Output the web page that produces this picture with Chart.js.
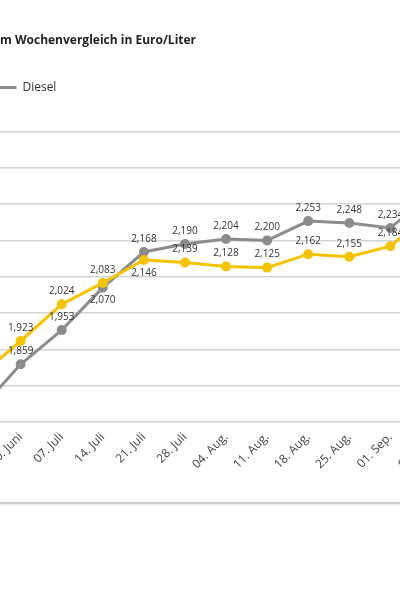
<!DOCTYPE html>
<html lang="de">
<head>
<meta charset="utf-8">
<title>Kraftstoffpreise im Wochenvergleich</title>
<script src="https://cdn.jsdelivr.net/npm/chart.js@4/dist/chart.umd.min.js"></script>
<style>
  html, body { margin: 0; padding: 0; background: #fff; width: 400px; height: 600px; overflow: hidden; }
  #wrap { position: absolute; left: -112px; top: 0; width: 574px; height: 492px; }
  #rule { position: absolute; left: 0; top: 502px; width: 400px; height: 2px; background: #cdcdcd; box-shadow: 0 1px 1px #ececec; }
</style>
</head>
<body>
<div id="wrap"><canvas id="mainchart"></canvas></div>
<div id="rule"></div>
<script>
// Wochenwerte in Euro/Liter
const weeks = ["23. Juni", "30. Juni", "07. Juli", "14. Juli", "21. Juli", "28. Juli",
  "04. Aug.", "11. Aug.", "18. Aug.", "25. Aug.", "01. Sep.", "08. Sep."];
const superE10 = [1.826, 1.923, 2.024, 2.083, 2.146, 2.139, 2.128, 2.125, 2.162, 2.155, 2.184, 2.277];
const diesel = [1.733, 1.859, 1.953, 2.070, 2.168, 2.190, 2.204, 2.200, 2.253, 2.248, 2.234, 2.330];

// where the value label sits relative to its point
const e10LabelSide = ["above", "above", "above", "above", "below", "above", "above", "above", "above", "above", "above", "above"];
const dieselLabelSide = ["above", "above", "above", "below", "above", "above", "above", "above", "above", "above", "above", "above"];

const yMin = 1.7;
const yMax = 2.5;

Chart.defaults.font.family = "'Open Sans', sans-serif";
Chart.defaults.color = "#333";

// extra space between legend and plot
const legendSpacer = {
  id: "legendSpacer",
  beforeInit(chart) {
    const fit = chart.legend.fit;
    chart.legend.fit = function () {
      fit.call(this);
      this.height += 28;
    };
  },
};

const valueLabels = {
  id: "valueLabels",
  afterDatasetsDraw(chart) {
    const c = chart.ctx;
    c.save();
    c.font = "10px 'Open Sans', sans-serif";
    c.fillStyle = "#333";
    c.textAlign = "center";
    c.textBaseline = "middle";
    chart.data.datasets.forEach((ds, i) => {
      chart.getDatasetMeta(i).data.forEach((pt, j) => {
        const dy = ds.labelSide[j] === "below" ? 13 : -13;
        c.fillText(ds.data[j].toFixed(3).replace(".", ","), pt.x, pt.y + dy);
      });
    });
    c.restore();
  },
};

const ctx = document.getElementById("mainchart").getContext("2d");
const mainchart = new Chart(ctx, {
  type: "line",
  data: {
    labels: weeks,
    datasets: [
      {
        label: "Super E10",
        data: superE10,
        labelSide: e10LabelSide,
        borderColor: "#f4c300",
        backgroundColor: "#f4c300",
        borderWidth: 3,
        pointRadius: 3.5,
        pointHoverRadius: 3.5,
        tension: 0,
      },
      {
        label: "Diesel",
        data: diesel,
        labelSide: dieselLabelSide,
        borderColor: "#8c8c8c",
        backgroundColor: "#8c8c8c",
        borderWidth: 3,
        pointRadius: 3.5,
        pointHoverRadius: 3.5,
        tension: 0,
      },
    ],
  },
  options: {
    responsive: true,
    maintainAspectRatio: false,
    animation: false,
    layout: { padding: { left: 10, right: 10, top: 0, bottom: 0 } },
    plugins: {
      tooltip: { enabled: false },
      title: {
        display: true,
        text: "Kraftstoffpreise im Wochenvergleich in Euro/Liter",
        align: "start",
        color: "#222",
        font: { size: 12, weight: "bold" },
        padding: { top: 33, bottom: 24 },
      },
      legend: {
        position: "top",
        align: "start",
        labels: {
          usePointStyle: true,
          pointStyle: "line",
          pointStyleWidth: 18,
          padding: 10,
          color: "#333",
          font: { size: 12 },
        },
      },
    },
    scales: {
      x: {
        type: "category",
        offset: true,
        grid: { display: false },
        border: { display: false },
        ticks: {
          autoSkip: false,
          minRotation: 45,
          maxRotation: 45,
          padding: 0,
          color: "#444",
          font: { size: 12 },
        },
        afterFit: (scale) => { scale.height = 70; },
      },
      y: {
        min: yMin,
        max: yMax,
        ticks: { stepSize: 0.1, display: false },
        grid: { color: "#d4d4d4", lineWidth: 1.5, drawTicks: false },
        border: { display: false },
        afterFit: (scale) => { scale.width = 61; },
      },
    },
  },
  plugins: [legendSpacer, valueLabels],
});
</script>
</body>
</html>
